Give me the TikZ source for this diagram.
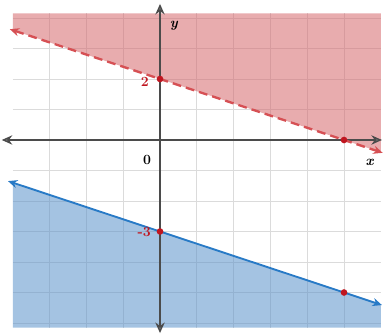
\documentclass[tikz,border=0pt]{standalone}
\usepackage{tikz}
\usetikzlibrary{arrows.meta}
\definecolor{shadered}{RGB}{213,104,108}
\definecolor{linered}{RGB}{214,80,84}
\definecolor{shadeblue}{RGB}{90,146,202}
\definecolor{lineblue}{RGB}{40,122,198}
\definecolor{axisgray}{RGB}{75,75,75}
\definecolor{dotred}{RGB}{192,22,32}
\tikzset{
  igrid/.style={line width=0.6pt, draw=black!14},
  iaxis/.style={line width=1.2pt, draw=axisgray,
    {Stealth[length=9pt,width=8pt,fill=gray]}-{Stealth[length=9pt,width=8pt,fill=gray]}},
  iredshade/.style={fill=shadered, fill opacity=0.55, draw=none},
  iblueshade/.style={fill=shadeblue, fill opacity=0.55, draw=none},
  iredline/.style={line width=2pt, draw=linered, dash pattern=on 7.5pt off 4.3pt,
    {Stealth[length=8pt,width=7pt]}-{Stealth[length=8pt,width=7pt]}},
  iblueline/.style={line width=1.6pt, draw=lineblue,
    {Stealth[length=8pt,width=7pt]}-{Stealth[length=8pt,width=7pt]}},
  idot/.style={fill=dotred, draw=none},
  ilabel/.style={font=\bfseries\large},
}
\begin{document}
\begin{tikzpicture}[x=1.104cm, y=0.915cm]
\useasboundingbox (-4.348,-6.393) rectangle (6.114,4.590);
% grid
\foreach \i in {-3,...,5} \draw[igrid] (\i,-6.15) -- (\i,4.15);
\foreach \j in {-6,...,4} \draw[igrid] (-4,\j) -- (6,\j);
% shaded half planes
\fill[iredshade] (-4,3.6) -- (-4,4.15) -- (6,4.15) -- (6,-0.4) -- cycle;
\fill[iblueshade] (-4,-1.4) -- (6,-5.4) -- (6,-6.15) -- (-4,-6.15) -- cycle;
% axes
\coordinate (xl) at (-4.3,0);
\coordinate (xr) at (6.03,0);
\coordinate (yb) at (0,-6.33);
\coordinate (yt) at (0,4.46);
\draw[iaxis] (xl) -- (xr);
\draw[iaxis] (yb) -- (yt);
% boundary lines
\coordinate (ra) at (-4.08,3.632);
\coordinate (rb) at (6.05,-0.42);
\coordinate (ba) at (-4.13,-1.348);
\coordinate (bb) at (6.03,-5.412);
\draw[iredline] (ra) -- (rb);
\draw[iblueline] (ba) -- (bb);
% intercepts
\fill[idot] (0,2) circle (0.1cm);
\fill[idot] (5,0) circle (0.1cm);
\fill[idot] (0,-3) circle (0.1cm);
\fill[idot] (5,-5) circle (0.1cm);
% labels
\node[ilabel] (lo) at (-0.35,-0.66) {0};
\node[ilabel, text=dotred] (ltwo) at (-0.41,1.9) {2};
\node[ilabel, text=dotred] (lthree) at (-0.43,-3.02) {-3};
\node[ilabel] (yname) at (0.38,3.74) {\textit{y}};
\node[ilabel] (xname) at (5.7,-0.72) {\textit{x}};
\end{tikzpicture}
\end{document}
